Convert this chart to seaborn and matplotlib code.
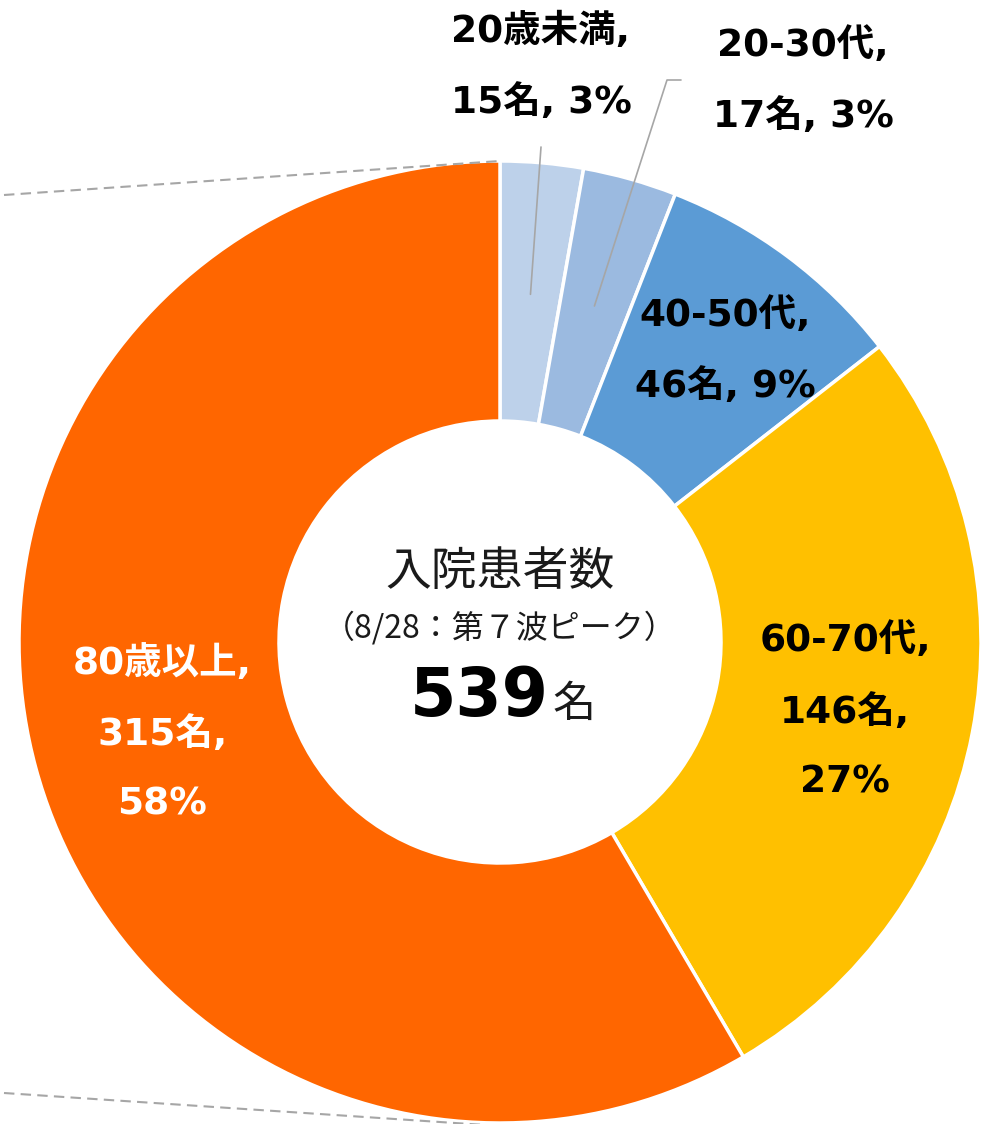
import numpy as np
import matplotlib
matplotlib.use("Agg")
import matplotlib.pyplot as plt
import seaborn as sns
from matplotlib.lines import Line2D

sns.set_theme(style="white")
plt.rcParams['font.family'] = ['DejaVu Sans', 'Noto Sans CJK JP']

# ---- data ----
categories = ["20歳未満", "20-30代", "40-50代", "60-70代", "80歳以上"]
counts = [15, 17, 46, 146, 315]
percents = ["3%", "3%", "9%", "27%", "58%"]
colors = ["#BDD1EA", "#9BBAE0", "#5B9BD5", "#FFC000", "#FF6600"]
label_colors = ["black", "black", "black", "black", "white"]
center_title = "入院患者数"
center_sub = "（8/28：第７波ピーク）"
total = sum(counts)

W, H = 989, 1124
fig = plt.figure(figsize=(W / 100, H / 100), dpi=100)
ax = fig.add_axes([0, 0, 1, 1])

cx, cy = 500, H - 642
R_out, R_in = 481, 221

ax.pie(counts, colors=colors, startangle=90, counterclock=False,
       radius=R_out, center=(cx, cy), frame=True,
       wedgeprops=dict(width=R_out - R_in, edgecolor="white", linewidth=2.5))
ax.set_xlim(0, W)
ax.set_ylim(0, H)
ax.axis("off")

def px(x, y):
    return x, H - y

cum = np.cumsum([0] + counts)
mids = [(cum[i] + cum[i + 1]) / 2 / total * 360 for i in range(len(counts))]

def polar(angle_deg, r):
    a = np.deg2rad(angle_deg)
    return cx + r * np.sin(a), cy + r * np.cos(a)

fs = 27
ls = 2.2
lab_font = ['DejaVu Sans', 'Noto Sans CJK JP']
ring_labels = {
    2: (f"{categories[2]},\n{counts[2]}名, {percents[2]}", 368, 1.0),
    3: (f"{categories[3]},\n{counts[3]}名,\n{percents[3]}", 352, 0.5),
    4: (f"{categories[4]},\n{counts[4]}名,\n{percents[4]}", 350, 0.0),
}
for i, (txt, r, da) in ring_labels.items():
    x, y = polar(mids[i] + da, r)
    ax.text(x, y, txt, ha="center", va="center", fontsize=fs, fontweight="bold",
            family=lab_font, color=label_colors[i], linespacing=ls, multialignment="center")

lx, ly = px(541, 67)
ax.text(lx, ly, f"{categories[0]},\n{counts[0]}名, {percents[0]}", ha="center", va="center",
        fontsize=fs, fontweight="bold", family=lab_font, color="black", linespacing=ls)
x0, y0 = polar(mids[0], 349)
ax.plot([x0, 541], [y0, H - 147], color="#A6A6A6", lw=1.2)

lx, ly = px(803, 81)
ax.text(lx, ly, f"{categories[1]},\n{counts[1]}名, {percents[1]}", ha="center", va="center",
        fontsize=fs, fontweight="bold", family=lab_font, color="black", linespacing=ls)
x1, y1 = polar(mids[1], 349)
ax.plot([x1, 667, 681], [y1, H - 80, H - 80], color="#A6A6A6", lw=1.2)

cjk = ['Noto Sans CJK JP', 'DejaVu Sans']
ax.text(cx, H - 572, center_title, ha="center", va="center", fontsize=33, color="#1a1a1a", family=cjk)
ax.text(cx, H - 628, center_sub, ha="center", va="center", fontsize=23, color="#1a1a1a", family=cjk)
ax.text(549, H - 697, "539", ha="right", va="center", fontsize=48, fontweight="bold", color="black",
        family=['DejaVu Sans'])
ax.text(553, H - 705, "名", ha="left", va="center", fontsize=31, color="#1a1a1a", family=cjk)

fig.add_artist(Line2D([4 / W, 500 / W], [1 - 195 / H, 1 - 161 / H], transform=fig.transFigure,
                      color="#A6A6A6", lw=1.5, ls=(0, (5, 3))))
fig.add_artist(Line2D([4 / W, 500 / W], [1 - 1093 / H, 1 - 1126 / H], transform=fig.transFigure,
                      color="#A6A6A6", lw=1.5, ls=(0, (5, 3))))

fig.savefig("out.png", dpi=100)
